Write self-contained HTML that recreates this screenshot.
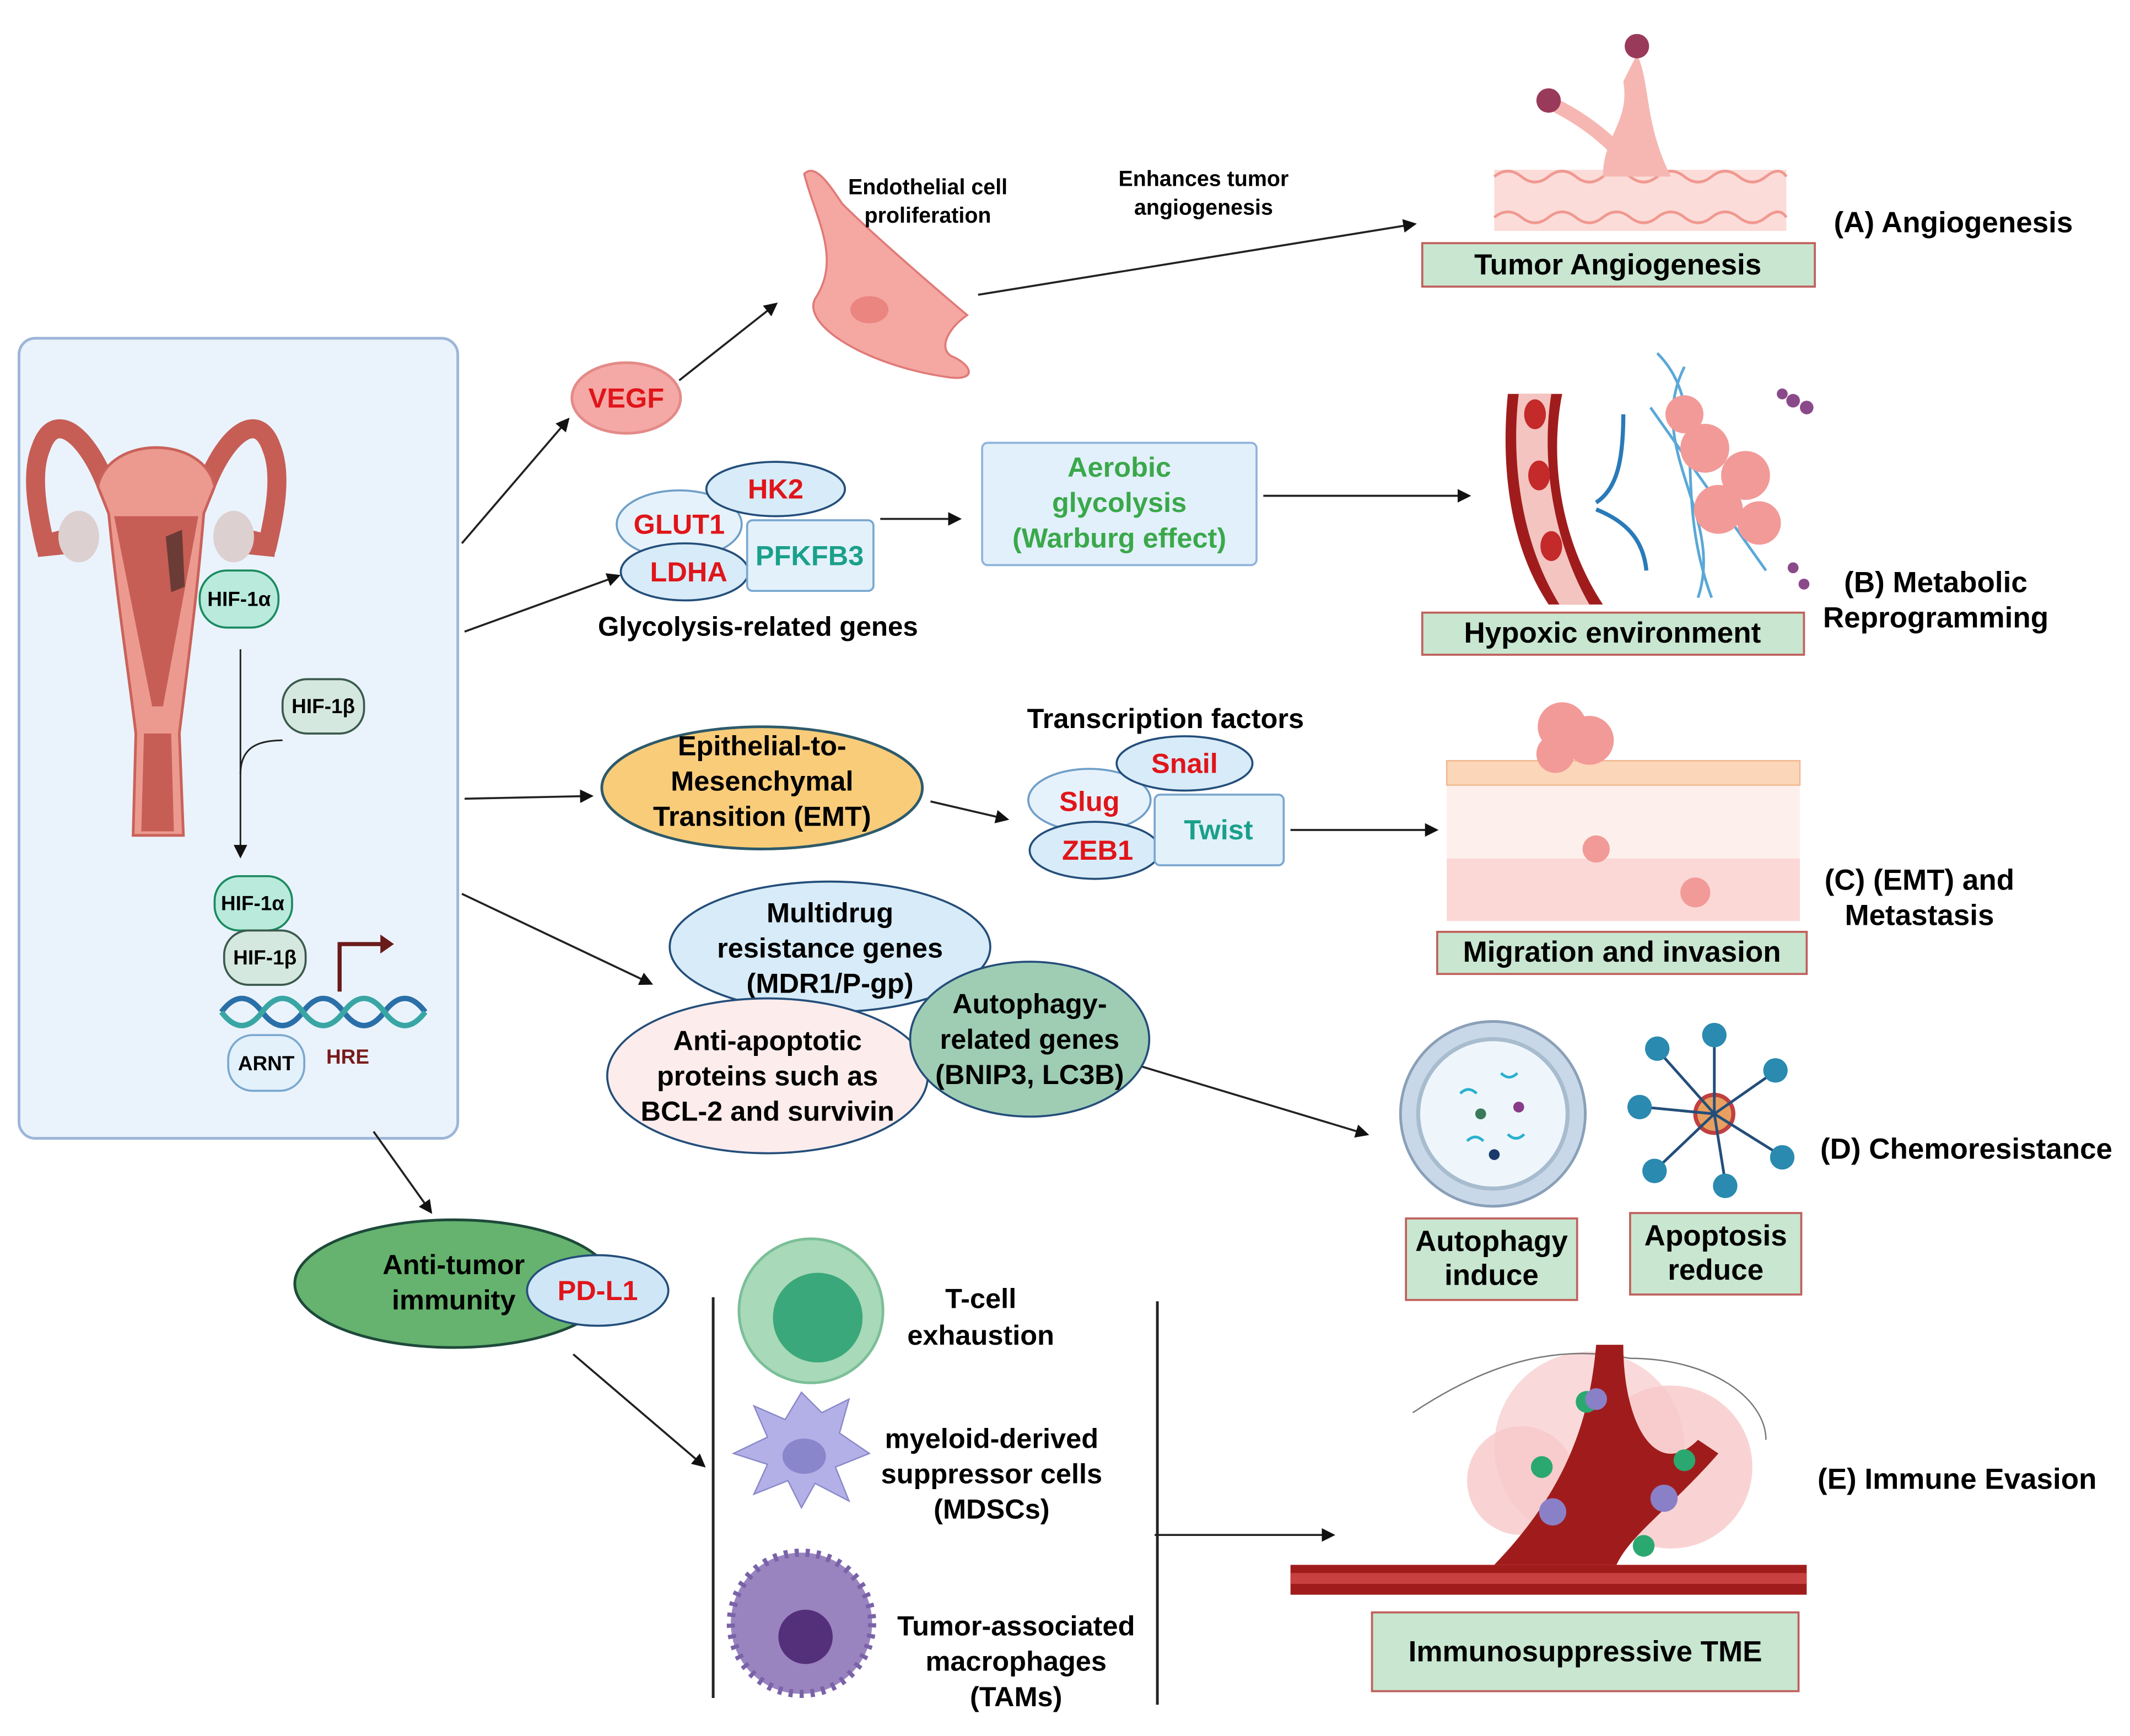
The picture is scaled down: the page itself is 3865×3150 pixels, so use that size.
<!DOCTYPE html>
<html><head><meta charset="utf-8"><style>
html,body{margin:0;padding:0;background:#fff;}
svg{display:block;}
text{font-family:"Liberation Sans",sans-serif;font-weight:bold;}
</style></head><body>
<svg width="3865" height="3150" viewBox="0 0 1568 1278" preserveAspectRatio="none" xmlns="http://www.w3.org/2000/svg">
<defs>
<marker id="ah" markerWidth="10" markerHeight="10" refX="8" refY="5" orient="auto" markerUnits="userSpaceOnUse"><path d="M0,0 L10,5 L0,10 Z" fill="#111"/></marker>
</defs>
<rect width="1568" height="1278" fill="#fff"/>
<!-- left panel -->
<rect x="14" y="249" width="323" height="589" rx="12" fill="#eaf3fc" stroke="#9db6d9" stroke-width="2"/>
<!-- uterus -->
<path d="M80,362 C65,320 40,300 30,330 C22,350 28,380 34,405" fill="none" stroke="#c65e56" stroke-width="14"/>
<path d="M150,362 C165,320 190,300 200,330 C208,350 202,380 196,405" fill="none" stroke="#c65e56" stroke-width="14"/>
<path d="M26,395 L46,390 L48,408 L28,410 Z" fill="#c65e56"/>
<path d="M204,395 L184,390 L182,408 L202,410 Z" fill="#c65e56"/>
<ellipse cx="58" cy="395" rx="15" ry="19" fill="#ddd0d0"/>
<ellipse cx="172" cy="395" rx="15" ry="19" fill="#ddd0d0"/>
<path d="M72,358 C80,320 150,320 158,358 L150,378 C145,440 138,490 132,540 L135,615 L98,615 L100,540 C94,490 86,440 80,378 Z" fill="#ec9a8f" stroke="#c9625a" stroke-width="2"/>
<path d="M84,380 L146,380 L120,520 L112,520 Z" fill="#c65e56"/>
<path d="M106,540 L126,540 L128,612 L104,612 Z" fill="#c65e56"/>
<path d="M122,395 L134,390 L136,432 L126,436 Z" fill="#6b3c35"/>
<!-- HIF -->
<rect x="147" y="420" width="58" height="42" rx="20" fill="#b9eadb" stroke="#1b8a60" stroke-width="1.5"/>
<text x="176" y="446" font-size="15" text-anchor="middle">HIF-1α</text>
<line x1="177" y1="478" x2="177" y2="630" stroke="#222" stroke-width="1.2" marker-end="url(#ah)"/>
<path d="M177,570 C177,550 190,545 208,545" fill="none" stroke="#222" stroke-width="1.2"/>
<rect x="208" y="500" width="60" height="40" rx="18" fill="#d5e8df" stroke="#3b5a4e" stroke-width="1.5"/>
<text x="238" y="525" font-size="15" text-anchor="middle">HIF-1β</text>
<rect x="158" y="645" width="57" height="40" rx="18" fill="#b9eadb" stroke="#1b8a60" stroke-width="1.5"/>
<text x="186" y="670" font-size="15" text-anchor="middle">HIF-1α</text>
<rect x="165" y="685" width="60" height="40" rx="18" fill="#d5e8df" stroke="#3b5a4e" stroke-width="1.5"/>
<text x="195" y="710" font-size="15" text-anchor="middle">HIF-1β</text>
<path d="M250,730 L250,695 L282,695" fill="none" stroke="#6b1a1a" stroke-width="3"/>
<path d="M280,688 L290,695 L280,702 Z" fill="#6b1a1a"/>
<path d="M163,745 Q178,725 193,745 T223,745 T253,745 T283,745 T313,745" fill="none" stroke="#2a6fa8" stroke-width="4"/>
<path d="M163,745 Q178,765 193,745 T223,745 T253,745 T283,745 T313,745" fill="none" stroke="#39a6a4" stroke-width="4"/>
<rect x="168" y="762" width="56" height="41" rx="18" fill="#e3f1fb" stroke="#7aa8cf" stroke-width="1.5"/>
<text x="196" y="788" font-size="15" text-anchor="middle">ARNT</text>
<text x="256" y="783" font-size="15" text-anchor="middle" fill="#7a1a1a">HRE</text>
<!-- arrows -->
<g stroke="#222" stroke-width="1.5" fill="none" marker-end="url(#ah)">
<line x1="340" y1="400" x2="418" y2="309"/>
<line x1="342" y1="465" x2="455" y2="424"/>
<line x1="342" y1="588" x2="435" y2="586"/>
<line x1="340" y1="658" x2="479" y2="724"/>
<line x1="275" y1="833" x2="317" y2="892"/>
<line x1="500" y1="280" x2="571" y2="224"/>
<line x1="720" y1="217" x2="1041" y2="165"/>
<line x1="648" y1="382" x2="706" y2="382"/>
<line x1="930" y1="365" x2="1081" y2="365"/>
<line x1="685" y1="590" x2="741" y2="603"/>
<line x1="950" y1="611" x2="1057" y2="611"/>
<line x1="840" y1="785" x2="1006" y2="835"/>
<line x1="422" y1="997" x2="518" y2="1079"/>
<line x1="850" y1="1130" x2="981" y2="1130"/>
</g>
<!-- VEGF -->
<ellipse cx="461" cy="293" rx="40" ry="26" fill="#f4a9a6" stroke="#e48a88" stroke-width="2"/>
<text x="461" y="300" font-size="20.5" text-anchor="middle" fill="#e0151a">VEGF</text>
<path d="M592,128 C600,160 620,190 600,220 C590,240 640,270 700,278 C720,280 715,268 700,262 C690,255 700,240 712,232 C680,205 640,170 620,150 C610,135 600,120 592,128 Z" fill="#f5a7a2" stroke="#e07a78" stroke-width="1.5"/>
<ellipse cx="640" cy="228" rx="14" ry="10" fill="#ea8580"/>
<text x="683" y="143" font-size="16" text-anchor="middle">Endothelial cell</text>
<text x="683" y="164" font-size="16" text-anchor="middle">proliferation</text>
<text x="886" y="137" font-size="16" text-anchor="middle">Enhances tumor</text>
<text x="886" y="158" font-size="16" text-anchor="middle">angiogenesis</text>
<!-- angiogenesis picture -->
<rect x="1100" y="125" width="215" height="45" fill="#fbdcd8"/>
<path d="M1100,130 q10,-8 20,0 t20,0 t20,0 t20,0 t20,0 t20,0 t20,0 t20,0 t20,0 t20,0 t15,0" fill="none" stroke="#f09890" stroke-width="2"/>
<path d="M1100,160 q10,-8 20,0 t20,0 t20,0 t20,0 t20,0 t20,0 t20,0 t20,0 t20,0 t20,0 t15,0" fill="none" stroke="#f09890" stroke-width="2"/>
<path d="M1180,130 C1180,100 1200,90 1195,60 L1205,40 C1215,60 1210,90 1230,130 Z" fill="#f6b7b2"/>
<path d="M1190,110 C1170,90 1150,80 1140,75" stroke="#f6b7b2" stroke-width="10" fill="none"/>
<circle cx="1140" cy="74" r="9" fill="#9a3a5a"/>
<circle cx="1205" cy="34" r="9" fill="#9a3a5a"/>
<rect x="1047" y="179" width="289" height="32" fill="#c8e6d0" stroke="#c0605c" stroke-width="1.5"/>
<text x="1191" y="202" font-size="21.5" text-anchor="middle">Tumor Angiogenesis</text>
<text x="1350" y="171" font-size="21.5">(A) Angiogenesis</text>
<!-- glycolysis -->
<ellipse cx="500" cy="386" rx="46" ry="25" fill="#e6f2fb" stroke="#6f9fc8" stroke-width="1.5"/>
<text x="500" y="393" font-size="20.5" text-anchor="middle" fill="#e0151a">GLUT1</text>
<ellipse cx="571" cy="360" rx="51" ry="20" fill="#d7ebf8" stroke="#244e7a" stroke-width="1.5"/>
<text x="571" y="367" font-size="20.5" text-anchor="middle" fill="#e0151a">HK2</text>
<ellipse cx="504" cy="421" rx="47" ry="21" fill="#d7ebf8" stroke="#244e7a" stroke-width="1.5"/>
<text x="507" y="428" font-size="20.5" text-anchor="middle" fill="#e0151a">LDHA</text>
<rect x="550" y="383" width="93" height="52" rx="4" fill="#e3f1fb" stroke="#7aa8cf" stroke-width="1.5"/>
<text x="596" y="416" font-size="20.5" text-anchor="middle" fill="#1aa08a">PFKFB3</text>
<text x="558" y="468" font-size="20" text-anchor="middle">Glycolysis-related genes</text>
<rect x="723" y="326" width="202" height="90" rx="4" fill="#e2f0fb" stroke="#8fb3da" stroke-width="1.5"/>
<text x="824" y="351" font-size="20.5" text-anchor="middle" fill="#3aa84a">Aerobic</text>
<text x="824" y="377" font-size="20.5" text-anchor="middle" fill="#3aa84a">glycolysis</text>
<text x="824" y="403" font-size="20.5" text-anchor="middle" fill="#3aa84a">(Warburg effect)</text>
<!-- hypoxic picture -->
<path d="M1110,290 L1150,290 C1140,340 1150,400 1180,445 L1140,445 C1110,400 1105,340 1110,290 Z" fill="#a01c1c"/>
<path d="M1118,290 L1142,290 C1134,340 1144,400 1170,445 L1148,445 C1120,400 1112,340 1118,290 Z" fill="#f4c4c0"/>
<ellipse cx="1130" cy="305" rx="8" ry="11" fill="#c42a2a"/>
<ellipse cx="1133" cy="350" rx="8" ry="11" fill="#c42a2a"/>
<ellipse cx="1142" cy="402" rx="8" ry="11" fill="#c42a2a"/>
<path d="M1220,260 C1260,300 1230,360 1260,440 M1240,270 C1210,330 1270,380 1250,440 M1215,300 L1300,420" stroke="#5aa8d8" stroke-width="2" fill="none"/>
<circle cx="1255" cy="330" r="18" fill="#f29a98"/><circle cx="1285" cy="350" r="18" fill="#f29a98"/>
<circle cx="1265" cy="375" r="18" fill="#f29a98"/><circle cx="1295" cy="385" r="16" fill="#f29a98"/>
<circle cx="1240" cy="305" r="14" fill="#f29a98"/>
<circle cx="1320" cy="295" r="5" fill="#8a4a8a"/><circle cx="1330" cy="300" r="5" fill="#8a4a8a"/><circle cx="1312" cy="290" r="4" fill="#8a4a8a"/>
<circle cx="1320" cy="418" r="4" fill="#8a4a8a"/><circle cx="1328" cy="430" r="4" fill="#8a4a8a"/>
<path d="M1175,370 C1190,360 1195,340 1195,305 M1175,375 C1200,385 1210,400 1212,420" stroke="#2a7ab8" stroke-width="3" fill="none"/>
<rect x="1047" y="451" width="281" height="31" fill="#c8e6d0" stroke="#c0605c" stroke-width="1.5"/>
<text x="1187" y="473" font-size="21.5" text-anchor="middle">Hypoxic environment</text>
<text x="1425" y="436" font-size="21.5" text-anchor="middle">(B) Metabolic</text>
<text x="1425" y="462" font-size="21.5" text-anchor="middle">Reprogramming</text>
<!-- EMT -->
<ellipse cx="561" cy="580" rx="118" ry="45" fill="#f9cc7a" stroke="#2d5a6a" stroke-width="2"/>
<text x="561" y="556" font-size="20.5" text-anchor="middle">Epithelial-to-</text>
<text x="561" y="582" font-size="20.5" text-anchor="middle">Mesenchymal</text>
<text x="561" y="608" font-size="20.5" text-anchor="middle">Transition (EMT)</text>
<text x="858" y="536" font-size="20.5" text-anchor="middle">Transcription factors</text>
<ellipse cx="802" cy="589" rx="45" ry="23" fill="#e6f2fb" stroke="#6f9fc8" stroke-width="1.5"/>
<text x="802" y="597" font-size="20.5" text-anchor="middle" fill="#e0151a">Slug</text>
<ellipse cx="872" cy="562" rx="50" ry="20" fill="#d7ebf8" stroke="#244e7a" stroke-width="1.5"/>
<text x="872" y="569" font-size="20.5" text-anchor="middle" fill="#e0151a">Snail</text>
<ellipse cx="806" cy="626" rx="48" ry="21" fill="#d7ebf8" stroke="#244e7a" stroke-width="1.5"/>
<text x="808" y="633" font-size="20.5" text-anchor="middle" fill="#e0151a">ZEB1</text>
<rect x="850" y="585" width="95" height="52" rx="4" fill="#e3f1fb" stroke="#7aa8cf" stroke-width="1.5"/>
<text x="897" y="618" font-size="20.5" text-anchor="middle" fill="#1aa08a">Twist</text>
<!-- EMT picture -->
<rect x="1065" y="560" width="260" height="118" fill="#fdf0ec"/>
<rect x="1065" y="560" width="260" height="18" fill="#fbd6b8" stroke="#f0b890" stroke-width="1"/>
<rect x="1065" y="632" width="260" height="46" fill="#fbd8d6"/>
<circle cx="1150" cy="535" r="18" fill="#f29a98"/><circle cx="1170" cy="545" r="18" fill="#f29a98"/><circle cx="1145" cy="555" r="14" fill="#f29a98"/>
<circle cx="1175" cy="625" r="10" fill="#f29a98"/><circle cx="1248" cy="657" r="11" fill="#f29a98"/>
<rect x="1058" y="686" width="272" height="31" fill="#c8e6d0" stroke="#c0605c" stroke-width="1.5"/>
<text x="1194" y="708" font-size="21.5" text-anchor="middle">Migration and invasion</text>
<text x="1413" y="655" font-size="21.5" text-anchor="middle">(C) (EMT) and</text>
<text x="1413" y="681" font-size="21.5" text-anchor="middle">Metastasis</text>
<!-- chemoresistance -->
<ellipse cx="611" cy="697" rx="118" ry="48" fill="#d7ebf8" stroke="#244e7a" stroke-width="1.5"/>
<text x="611" y="679" font-size="20.5" text-anchor="middle">Multidrug</text>
<text x="611" y="705" font-size="20.5" text-anchor="middle">resistance genes</text>
<text x="611" y="731" font-size="20.5" text-anchor="middle">(MDR1/P-gp)</text>
<ellipse cx="565" cy="792" rx="118" ry="57" fill="#fcecec" stroke="#244e7a" stroke-width="1.5"/>
<text x="565" y="773" font-size="20.5" text-anchor="middle">Anti-apoptotic</text>
<text x="565" y="799" font-size="20.5" text-anchor="middle">proteins such as</text>
<text x="565" y="825" font-size="20.5" text-anchor="middle">BCL-2 and survivin</text>
<ellipse cx="758" cy="765" rx="88" ry="57" fill="#9fcdb4" stroke="#244e7a" stroke-width="1.5"/>
<text x="758" y="746" font-size="20.5" text-anchor="middle">Autophagy-</text>
<text x="758" y="772" font-size="20.5" text-anchor="middle">related genes</text>
<text x="758" y="798" font-size="20.5" text-anchor="middle">(BNIP3, LC3B)</text>
<circle cx="1099" cy="820" r="68" fill="#c8d8e8" stroke="#8aa0b8" stroke-width="2"/>
<circle cx="1099" cy="820" r="55" fill="#eef6fb" stroke="#a8bccf" stroke-width="3"/>
<path d="M1075,805 q6,-6 12,0 M1105,790 q6,6 12,0 M1080,840 q6,-6 12,0 M1110,835 q6,6 12,0" stroke="#2ab0d0" stroke-width="2" fill="none"/>
<circle cx="1090" cy="820" r="4" fill="#3a7a5a"/><circle cx="1118" cy="815" r="4" fill="#8a3a8a"/><circle cx="1100" cy="850" r="4" fill="#1a3a6a"/>
<circle cx="1262" cy="820" r="14" fill="#e8a060" stroke="#c04040" stroke-width="3"/>
<g stroke="#244e7a" stroke-width="2">
<line x1="1262" y1="820" x2="1262" y2="765"/><line x1="1262" y1="820" x2="1305" y2="790"/><line x1="1262" y1="820" x2="1310" y2="850"/><line x1="1262" y1="820" x2="1270" y2="870"/><line x1="1262" y1="820" x2="1220" y2="860"/><line x1="1262" y1="820" x2="1210" y2="815"/><line x1="1262" y1="820" x2="1222" y2="775"/></g>
<g fill="#2a8ab0"><circle cx="1262" cy="762" r="9"/><circle cx="1307" cy="788" r="9"/><circle cx="1312" cy="852" r="9"/><circle cx="1270" cy="873" r="9"/><circle cx="1218" cy="862" r="9"/><circle cx="1207" cy="815" r="9"/><circle cx="1220" cy="772" r="9"/></g>
<rect x="1035" y="897" width="126" height="60" fill="#c8e6d0" stroke="#c0605c" stroke-width="1.5"/>
<text x="1098" y="921" font-size="21.5" text-anchor="middle">Autophagy</text>
<text x="1098" y="946" font-size="21.5" text-anchor="middle">induce</text>
<rect x="1200" y="893" width="126" height="60" fill="#c8e6d0" stroke="#c0605c" stroke-width="1.5"/>
<text x="1263" y="917" font-size="21.5" text-anchor="middle">Apoptosis</text>
<text x="1263" y="942" font-size="21.5" text-anchor="middle">reduce</text>
<text x="1340" y="853" font-size="21.5">(D) Chemoresistance</text>
<!-- immunity -->
<ellipse cx="334" cy="945" rx="117" ry="47" fill="#65b36e" stroke="#1e4a3a" stroke-width="2"/>
<text x="334" y="938" font-size="20.5" text-anchor="middle">Anti-tumor</text>
<text x="334" y="964" font-size="20.5" text-anchor="middle">immunity</text>
<ellipse cx="440" cy="950" rx="52" ry="26" fill="#cfe6f7" stroke="#244e7a" stroke-width="1.5"/>
<text x="440" y="957" font-size="20.5" text-anchor="middle" fill="#e0151a">PD-L1</text>
<line x1="525" y1="955" x2="525" y2="1250" stroke="#222" stroke-width="2"/>
<line x1="852" y1="958" x2="852" y2="1255" stroke="#222" stroke-width="2"/>
<circle cx="597" cy="965" r="53" fill="#a8d9b8" stroke="#7cbf98" stroke-width="2"/>
<circle cx="602" cy="970" r="33" fill="#3aa87a"/>
<text x="722" y="963" font-size="20.5" text-anchor="middle">T-cell</text>
<text x="722" y="990" font-size="20.5" text-anchor="middle">exhaustion</text>
<path d="M590,1025 L605,1040 L625,1030 L618,1055 L640,1070 L615,1080 L625,1105 L600,1092 L590,1110 L580,1090 L555,1100 L565,1078 L540,1070 L565,1058 L555,1035 L578,1045 Z" fill="#b3b0e8" stroke="#8a88c8"/>
<ellipse cx="592" cy="1072" rx="16" ry="13" fill="#8a86cc"/>
<text x="730" y="1066" font-size="20.5" text-anchor="middle">myeloid-derived</text>
<text x="730" y="1092" font-size="20.5" text-anchor="middle">suppressor cells</text>
<text x="730" y="1118" font-size="20.5" text-anchor="middle">(MDSCs)</text>
<circle cx="590" cy="1195" r="52" fill="#9a84c0" stroke="#7a62a8" stroke-width="6" stroke-dasharray="3 5"/>
<circle cx="593" cy="1205" r="20" fill="#55307a"/>
<text x="748" y="1204" font-size="20.5" text-anchor="middle">Tumor-associated</text>
<text x="748" y="1230" font-size="20.5" text-anchor="middle">macrophages</text>
<text x="748" y="1256" font-size="20.5" text-anchor="middle">(TAMs)</text>
<!-- immune picture -->
<circle cx="1170" cy="1065" r="70" fill="#f8d0d0" opacity="0.8"/>
<circle cx="1230" cy="1080" r="60" fill="#f8c8c8" opacity="0.8"/>
<circle cx="1120" cy="1090" r="40" fill="#f8c8c8" opacity="0.8"/>
<path d="M1040,1040 C1100,1000 1150,990 1200,1000 C1260,1000 1300,1030 1300,1060" fill="none" stroke="#777" stroke-width="1"/>
<rect x="950" y="1152" width="380" height="22" fill="#a01c1c"/>
<rect x="950" y="1158" width="380" height="8" fill="#c84040"/>
<path d="M1100,1152 C1150,1100 1170,1050 1175,990 L1195,990 C1195,1050 1220,1090 1250,1060 L1265,1070 C1230,1110 1200,1130 1190,1152 Z" fill="#a01c1c"/>
<g fill="#2aa870"><circle cx="1135" cy="1080" r="8"/><circle cx="1240" cy="1075" r="8"/><circle cx="1210" cy="1138" r="8"/><circle cx="1168" cy="1032" r="8"/></g>
<g fill="#8a80c8"><circle cx="1143" cy="1113" r="10"/><circle cx="1225" cy="1103" r="10"/><circle cx="1175" cy="1030" r="8"/></g>
<rect x="1010" y="1187" width="314" height="58" fill="#c8e6d0" stroke="#c0605c" stroke-width="1.5"/>
<text x="1167" y="1223" font-size="21.5" text-anchor="middle">Immunosuppressive TME</text>
<text x="1338" y="1096" font-size="21.5">(E)  Immune Evasion</text>
</svg>
</body></html>
